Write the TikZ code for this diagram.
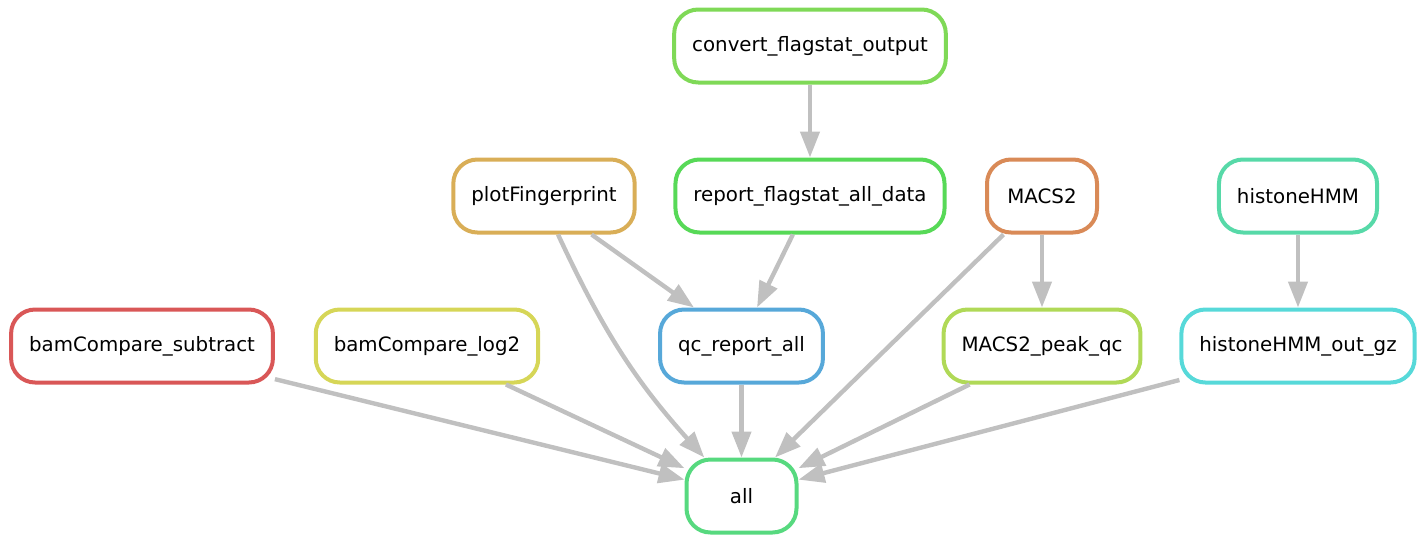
\documentclass[tikz,border=0pt]{standalone}
\usepackage{fontspec}
\setmainfont{DejaVu Sans}
\usetikzlibrary{arrows.meta}
\definecolor{colsub}{HTML}{D95757}
\definecolor{colmac}{HTML}{D98A57}
\definecolor{colpf}{HTML}{D9AE57}
\definecolor{collog}{HTML}{D6D657}
\definecolor{colpeak}{HTML}{B0D957}
\definecolor{colconv}{HTML}{7FD957}
\definecolor{colrep}{HTML}{57D957}
\definecolor{colall}{HTML}{57D97F}
\definecolor{colhmm}{HTML}{57D9A8}
\definecolor{colgz}{HTML}{57D9D9}
\definecolor{colqc}{HTML}{57A8D9}
\definecolor{edgegray}{HTML}{C0C0C0}
\begin{document}
\begin{tikzpicture}[x=0.5pt, y=-0.5pt,
    rule/.style={draw=#1, line width=2pt, rounded corners=12pt, fill=white,
      minimum width=55pt, minimum height=36.5pt, inner xsep=9pt,
      font=\fontsize{9.9}{12}\selectfont},
    edge/.style={draw=edgegray, line width=2.2pt, -{Triangle[length=13pt, width=9.5pt]}}]
    \useasboundingbox (0,0) rectangle (1425,542);

    \node[rule=colconv] (conv) at (810,46) {convert\_flagstat\_output};
    \node[rule=colpf] (pf) at (544,196) {plotFingerprint};
    \node[rule=colrep] (rep) at (810,196) {report\_flagstat\_all\_data};
    \node[rule=colmac] (mac) at (1042,196) {MACS2};
    \node[rule=colhmm] (hmm) at (1298,196) {histoneHMM};
    \node[rule=colsub] (sub) at (142,346) {bamCompare\_subtract};
    \node[rule=collog] (log) at (427,346) {bamCompare\_log2};
    \node[rule=colqc] (qc) at (741.5,346) {qc\_report\_all};
    \node[rule=colpeak] (peak) at (1042,346) {MACS2\_peak\_qc};
    \node[rule=colgz] (gz) at (1298,346) {histoneHMM\_out\_gz};
    \node[rule=colall] (all) at (741.5,496) {all};

    \draw[edge] (conv) -- (rep);
    \draw[edge] (pf.-39) -- (qc.141);
    \draw[edge] (rep.-114) -- (qc.68);
    \draw[edge] (mac) -- (peak);
    \draw[edge] (hmm) -- (gz);
    \draw[edge] (pf.-70) to[out=-65, in=132] (all.134);
    \draw[edge] (qc) -- (all);
    \draw[edge] (mac.-135) -- (all.49);
    \draw[edge] (sub.-14) -- (all.164);
    \draw[edge] (log.-26) -- (all.154);
    \draw[edge] (peak.-152) -- (all.26);
    \draw[edge] (gz.-164) -- (all.16);
  \end{tikzpicture}
\end{document}
